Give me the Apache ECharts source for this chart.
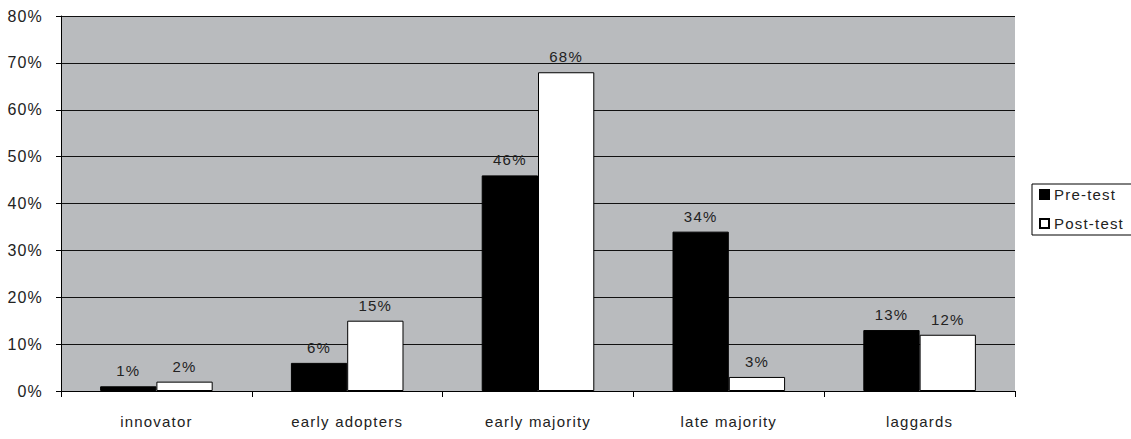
<!DOCTYPE html>
<html>
<head>
<meta charset="utf-8">
<script src="https://cdn.jsdelivr.net/npm/echarts@6/dist/echarts.min.js"></script>
<style>
  html, body { margin: 0; padding: 0; background: #fff; }
  #chart { width: 1131px; height: 439px; }
  #chart svg text { letter-spacing: 1.2px; }
</style>
</head>
<body>
<div id="chart"></div>
<script>
// Adopter categories along the x axis
const categories = ['innovator', 'early adopters', 'early majority', 'late majority', 'laggards'];
// Share of respondents (%) in each category
const preTest  = [1, 6, 46, 34, 13];
const postTest = [2, 15, 68, 3, 12];
const seriesNames = ['Pre-test', 'Post-test'];

const FONT = "'Liberation Sans', Arial, sans-serif";
const TEXT = '#222';

const chart = echarts.init(document.getElementById('chart'), null, { renderer: 'svg' });

const labelStyle = {
  show: true,
  position: 'top',
  distance: 8,
  formatter: p => p.value + '%',
  fontFamily: FONT,
  fontSize: 15,
  color: TEXT
};

chart.setOption({
  animation: false,
  backgroundColor: '#fff',
  grid: {
    left: 61, right: 116, top: 16, bottom: 48,
    show: true, backgroundColor: '#b9bbbe', borderWidth: 0
  },
  legend: {
    orient: 'vertical',
    left: 1032, top: 184,
    borderColor: '#000', borderWidth: 1,
    padding: [3, 40, 4, 7],
    itemWidth: 9, itemHeight: 9, itemGap: 14,
    icon: 'rect',
    textStyle: { fontFamily: FONT, fontSize: 15, color: TEXT },
    data: seriesNames
  },
  xAxis: {
    type: 'category',
    data: categories,
    axisLine: { show: true, lineStyle: { color: '#000', width: 1 } },
    axisTick: { show: true, length: 6, lineStyle: { color: '#000' } },
    axisLabel: { margin: 23, fontFamily: FONT, fontSize: 15, color: TEXT },
    splitLine: { show: false }
  },
  yAxis: {
    type: 'value',
    min: 0, max: 80, interval: 10,
    axisLine: { show: true, lineStyle: { color: '#000', width: 1 } },
    axisTick: { show: true, length: 5, lineStyle: { color: '#000' } },
    axisLabel: { formatter: '{value}%', margin: 18, fontFamily: FONT, fontSize: 16, color: TEXT },
    splitLine: { show: true, lineStyle: { color: '#111', width: 1 } }
  },
  series: [
    {
      name: seriesNames[0],
      type: 'bar',
      data: preTest,
      barGap: '0%',
      barCategoryGap: '41%',
      itemStyle: { color: '#000', borderColor: '#000', borderWidth: 1 },
      label: labelStyle
    },
    {
      name: seriesNames[1],
      type: 'bar',
      data: postTest,
      itemStyle: { color: '#fff', borderColor: '#000', borderWidth: 1 },
      label: labelStyle
    }
  ]
});
</script>
</body>
</html>
